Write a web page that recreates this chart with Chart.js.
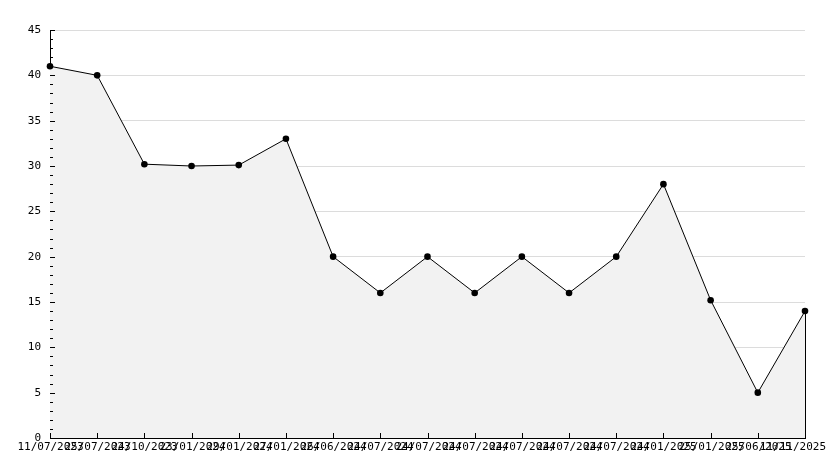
<!DOCTYPE html>
<html>
<head>
<meta charset="utf-8">
<style>
html,body{margin:0;padding:0;background:#fff;}
#wrap{width:834px;height:468px;position:relative;}
</style>
<script src="https://cdn.jsdelivr.net/npm/chart.js@4/dist/chart.umd.min.js"></script>
</head>
<body>
<div id="wrap"><canvas id="c" width="834" height="468"></canvas></div>
<script>
const categories = ["11/07/2023","25/07/2023","24/10/2023","23/01/2024","29/01/2024","27/01/2024","26/06/2024","24/07/2024","24/07/2024","24/07/2024","24/07/2024","24/07/2024","24/07/2024","24/01/2025","25/01/2025","25/06/2025","11/11/2025"];
const values = [41, 40, 30.2, 30, 30.1, 33, 20, 16, 20, 16, 20, 16, 20, 28, 15.2, 5, 14];
const yMin = 0, yMax = 45, yMajorStep = 5, yMinorStep = 1;

const FONT = "11px 'DejaVu Sans Mono', monospace";

const axisDecor = {
  id: 'axisDecor',
  afterDatasetsDraw(chart) {
    const ctx = chart.ctx;
    const x = chart.scales.x, y = chart.scales.y;
    const area = chart.chartArea;
    ctx.save();
    ctx.strokeStyle = '#000';
    ctx.lineWidth = 1;
    const meta = chart.getDatasetMeta(0);
    const last = meta.data[meta.data.length - 1];
    ctx.beginPath();
    ctx.moveTo(Math.round(last.x) + 0.5, last.y);
    ctx.lineTo(Math.round(last.x) + 0.5, y.getPixelForValue(0));
    ctx.stroke();
    for (let v = yMin; v <= yMax; v += yMinorStep) {
      const py = Math.round(y.getPixelForValue(v)) + 0.5;
      const len = (v % yMajorStep === 0) ? 5 : 3;
      ctx.beginPath();
      ctx.moveTo(area.left, py);
      ctx.lineTo(area.left + len, py);
      ctx.stroke();
    }
    ctx.font = FONT;
    ctx.fillStyle = '#000';
    ctx.textBaseline = 'top';
    const yb = y.getPixelForValue(0);
    x.ticks.forEach((t, i) => {
      const px = Math.round(x.getPixelForTick(i)) + 0.5;
      ctx.beginPath();
      ctx.moveTo(px, yb);
      ctx.lineTo(px, yb - 5);
      ctx.stroke();
      const label = x.getLabelForValue(t.value);
      const w = ctx.measureText(label).width;
      let lx = px - w / 2;
      if (lx + w > chart.width - 8) lx = chart.width - 8 - w;
      if (lx < 0) lx = 0;
      ctx.textAlign = 'left';
      ctx.fillText(label, lx, yb + 4);
    });
    ctx.restore();
  }
};

new Chart(document.getElementById('c'), {
  type: 'line',
  data: {
    labels: categories,
    datasets: [{
      data: values,
      borderColor: '#000',
      borderWidth: 1,
      backgroundColor: '#f2f2f2',
      fill: 'origin',
      tension: 0,
      pointRadius: 3.3,
      pointBackgroundColor: '#000',
      pointBorderColor: '#000',
      pointBorderWidth: 0
    }]
  },
  options: {
    responsive: false,
    animation: false,
    devicePixelRatio: 1,
    layout: { padding: { left: 0, right: 29, top: 30, bottom: 0 } },
    plugins: { legend: { display: false }, tooltip: { enabled: false } },
    scales: {
      x: {
        type: 'category',
        offset: false,
        grid: { display: false, drawTicks: false },
        border: { display: true, color: '#000', width: 1 },
        ticks: { display: false, autoSkip: false },
        afterFit(s) { s.height = 30; s.paddingLeft = 0; s.paddingRight = 0; }
      },
      y: {
        min: yMin, max: yMax,
        grid: { color: '#dcdcdc', drawTicks: false, lineWidth: 1 },
        border: { display: true, color: '#000', width: 1 },
        ticks: { stepSize: yMajorStep, padding: 9, color: '#000', font: { family: "'DejaVu Sans Mono', monospace", size: 11 } },
        afterFit(s) { s.width = 50; s.paddingTop = 0; s.paddingBottom = 0; }
      }
    }
  },
  plugins: [axisDecor]
});
</script>
</body>
</html>
